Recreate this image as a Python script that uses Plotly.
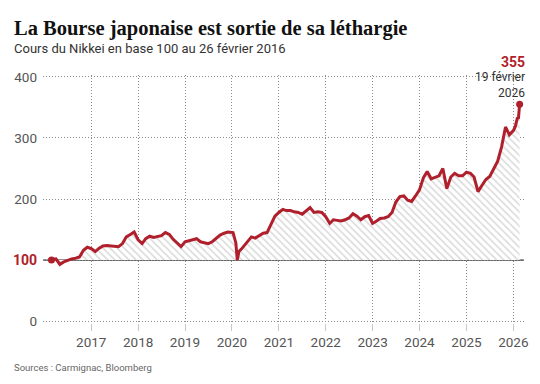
import plotly.graph_objects as go

# ---- data (Nikkei, base 100 on 26 Feb 2016) ----
dates = [
    "2016-02-26", "2016-03-01", "2016-04-01", "2016-05-01", "2016-06-01", "2016-07-01", "2016-08-01",
    "2016-09-01", "2016-10-01", "2016-11-01", "2016-12-01",
    "2017-01-01", "2017-02-01", "2017-03-01", "2017-04-01", "2017-05-01", "2017-06-01",
    "2017-07-01", "2017-08-01", "2017-09-01", "2017-10-01", "2017-11-01", "2017-12-01",
    "2018-01-01", "2018-02-01", "2018-03-01", "2018-04-01", "2018-05-01", "2018-06-01",
    "2018-07-01", "2018-08-01", "2018-09-01", "2018-10-01", "2018-11-01", "2018-12-01",
    "2019-01-01", "2019-02-01", "2019-03-01", "2019-04-01", "2019-05-01", "2019-06-01",
    "2019-07-01", "2019-08-01", "2019-09-01", "2019-10-01", "2019-11-01", "2019-12-01",
    "2020-01-10", "2020-02-01", "2020-02-12", "2020-02-25", "2020-03-15", "2020-04-01",
    "2020-05-01", "2020-06-01", "2020-07-01", "2020-08-01", "2020-09-01", "2020-10-01",
    "2020-11-01", "2020-12-01",
    "2021-01-01", "2021-02-01", "2021-03-01", "2021-04-01", "2021-05-01", "2021-06-01",
    "2021-07-01", "2021-08-01", "2021-09-01", "2021-10-01", "2021-11-01", "2021-12-01",
    "2022-01-01", "2022-02-01", "2022-03-01", "2022-04-01", "2022-05-01", "2022-06-01",
    "2022-07-01", "2022-08-01", "2022-09-01", "2022-10-01", "2022-11-01", "2022-12-01",
    "2023-01-01", "2023-02-01", "2023-03-01", "2023-04-01", "2023-05-01", "2023-06-01",
    "2023-07-01", "2023-08-01", "2023-09-01", "2023-10-01", "2023-11-01", "2023-12-01",
    "2024-01-01", "2024-02-01", "2024-03-01", "2024-04-01", "2024-05-01", "2024-06-01",
    "2024-07-01", "2024-08-01", "2024-09-01", "2024-10-01", "2024-11-01", "2024-12-01",
    "2025-01-01", "2025-02-01", "2025-03-01", "2025-04-01", "2025-05-01", "2025-06-01",
    "2025-07-01", "2025-08-01", "2025-09-01", "2025-10-01", "2025-11-01", "2025-12-01",
    "2026-01-01", "2026-01-15", "2026-02-01", "2026-02-10", "2026-02-19",
]
values = [
    100, 101, 102, 93, 97, 100, 102,
    103, 105, 116, 121,
    119, 114, 119, 123, 124, 123,
    123, 122, 127, 138, 142, 146,
    133, 127, 135, 139, 137, 138,
    140, 145, 142, 134, 128, 122,
    130, 132, 133, 135, 130, 129,
    127, 130, 136, 141, 144, 146,
    145, 128, 100, 114, 118, 122,
    130, 138, 136, 140, 144, 145,
    160, 172,
    178, 183, 181, 181, 179, 178,
    175, 180, 186, 178, 179, 178,
    171, 160, 166, 165, 164, 166,
    169, 176, 172, 166, 171, 173,
    160, 164, 168, 169, 171, 178,
    195, 204, 205, 198, 196, 205,
    215, 235, 245, 233, 235, 238,
    250, 217, 236, 242, 238, 238,
    244, 242, 236, 212, 222, 232,
    237, 250, 262, 285, 318, 305,
    312, 318, 332, 333, 355,
]

BASE = 100
year_ticks = ["2017-01-01", "2018-01-01", "2019-01-01", "2020-01-01", "2021-01-01",
              "2022-01-01", "2023-01-01", "2024-01-01", "2025-01-01", "2026-01-01"]
year_labels = ["2017", "2018", "2019", "2020", "2021", "2022", "2023", "2024", "2025", "2026"]
y_ticks = [0, 100, 200, 300, 400]

RED = "#b01f2c"
SANS = "Roboto, Lato, sans-serif"
GRID = "#8c8c8c"
DOTS = "1px,2px"

fig = go.Figure()

# baseline for hatched fill
fig.add_trace(go.Scatter(x=dates, y=[BASE] * len(dates), mode="lines",
                         line=dict(width=0, color="rgba(0,0,0,0)"),
                         hoverinfo="skip", showlegend=False))
fig.add_trace(go.Scatter(x=dates, y=values, mode="lines",
                         line=dict(color=RED, width=3),
                         fill="tonexty", fillcolor="rgba(0,0,0,0)",
                         fillpattern=dict(shape="\\", fgcolor="#b4b4b4", bgcolor="white",
                                          size=5, solidity=0.3),
                         showlegend=False))
# start and end dots
fig.add_trace(go.Scatter(x=[dates[0], dates[-1]], y=[values[0], values[-1]], mode="markers",
                         marker=dict(color=RED, size=7), showlegend=False, cliponaxis=False))

fig.add_shape(type="line", xref="paper", x0=0, x1=1, yref="y", y0=BASE, y1=BASE,
              line=dict(color="#333333", width=1.3), layer="between")

ticktext = [str(v) if v != BASE else
            '<span style="color:%s;font-size:14px"><b>%d</b></span>' % (RED, v)
            for v in y_ticks]

fig.update_layout(
    width=540, height=384,
    margin=dict(l=43, r=12, t=75, b=61),
    paper_bgcolor="white", plot_bgcolor="white",
    font=dict(family=SANS, size=13, color="#555555"),
    xaxis=dict(type="date", range=["2015-12-22", "2026-03-25"],
               tickvals=year_ticks, ticktext=year_labels,
               showgrid=True, gridcolor=GRID, griddash=DOTS, gridwidth=1,
               ticks="outside", ticklen=7, tickcolor="#c8c8c8",
               showline=False, zeroline=False,
               tickfont=dict(family=SANS, size=13.5, color="#555555")),
    yaxis=dict(range=[-3, 403], tickvals=y_ticks, ticktext=ticktext,
               showgrid=True, gridcolor=GRID, griddash=DOTS, gridwidth=1,
               zeroline=False, showline=False, ticks="", ticklabelstandoff=5,
               tickfont=dict(family=SANS, size=13.5, color="#555555")),
    showlegend=False,
)

def px_x(px):
    return (px - 43) / 485.0

def px_y(py):
    return (323 - py) / 248.0

annos = [
    dict(text="<b>La Bourse japonaise est sortie de sa léthargie</b>", x=px_x(12), y=px_y(29),
         xanchor="left", yanchor="middle",
         font=dict(family="Liberation Serif, DejaVu Serif, serif", size=20.5, color="#111111")),
    dict(text="Cours du Nikkei en base 100 au 26 février 2016", x=px_x(12), y=px_y(48),
         xanchor="left", yanchor="middle",
         font=dict(family=SANS, size=13, color="#333333")),
    dict(text="Sources : Carmignac, Bloomberg", x=px_x(12), y=px_y(367),
         xanchor="left", yanchor="middle",
         font=dict(family=SANS, size=9.5, color="#666666")),
    dict(text="<b>%d</b>" % values[-1], x=px_x(531), y=px_y(62),
         xanchor="right", yanchor="middle",
         font=dict(family=SANS, size=14, color=RED)),
    dict(text="19 février<br>2026", x=px_x(531), y=px_y(85),
         xanchor="right", yanchor="middle", align="right",
         font=dict(family=SANS, size=12, color="#333333")),
]
for a in annos:
    fig.add_annotation(xref="paper", yref="paper", showarrow=False, **a)

fig.write_html("out.html", config={"displayModeBar": False},
               post_script="document.body.style.margin='0';")
